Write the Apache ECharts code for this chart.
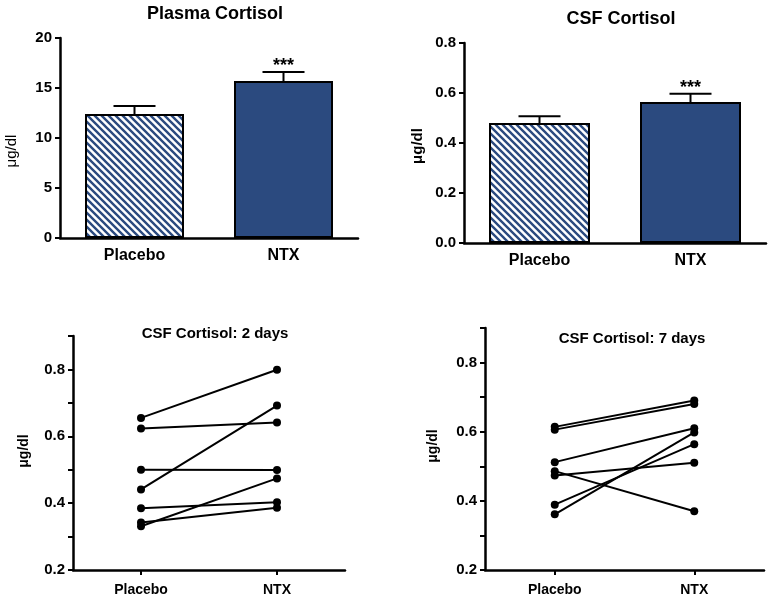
<!DOCTYPE html>
<html>
<head>
<meta charset="utf-8">
<script src="https://cdn.jsdelivr.net/npm/echarts@6/dist/echarts.min.js"></script>
<style>
html,body{margin:0;padding:0;background:#fff;}
#c{width:768px;height:594px;}
</style>
</head>
<body>
<div id="c"></div>
<script>
// ---- data ----
const groups = ['Placebo', 'NTX'];
const plasmaMean = [12.4, 15.7];
const plasmaSem = [0.8, 0.9];
const plasmaSig = ['', '***'];
const csfMean = [0.48, 0.564];
const csfSem = [0.027, 0.033];
const csfSig = ['', '***'];
const day2Placebo = [0.655, 0.623, 0.500, 0.441, 0.385, 0.342, 0.331];
const day2NTX     = [0.799, 0.641, 0.499, 0.692, 0.403, 0.386, 0.474];
const day7Placebo = [0.614, 0.606, 0.512, 0.473, 0.486, 0.389, 0.361];
const day7NTX     = [0.690, 0.680, 0.610, 0.510, 0.370, 0.564, 0.598];
const titles = ['Plasma Cortisol', 'CSF Cortisol', 'CSF Cortisol: 2 days', 'CSF Cortisol: 7 days'];
const yName = 'μg/dl';

const NAVY = '#2b4a7f';
const FONT = '"Liberation Sans", Arial, Helvetica, sans-serif';

function hatch() {
  const n = 7;
  const c = document.createElement('canvas');
  c.width = n; c.height = n;
  const g = c.getContext('2d');
  g.fillStyle = '#fff'; g.fillRect(0, 0, n, n);
  g.strokeStyle = NAVY; g.lineWidth = 2.4;
  g.beginPath();
  g.moveTo(-2, -2); g.lineTo(n + 2, n + 2);
  g.moveTo(-2, n - 2); g.lineTo(2, n + 2);
  g.moveTo(n - 2, -2); g.lineTo(n + 2, 2);
  g.stroke();
  return c;
}
const hatchPattern = { image: hatch(), repeat: 'repeat' };

const chart = echarts.init(document.getElementById('c'), null, { renderer: 'canvas' });

const grids = [
  { left: 60, top: 38, width: 298, height: 200, outerBoundsMode: 'none', containLabel: false },
  { left: 464, top: 43, width: 302, height: 200, outerBoundsMode: 'none', containLabel: false },
  { left: 73, top: 336, width: 272, height: 234, outerBoundsMode: 'none', containLabel: false },
  { left: 485, top: 328, width: 279, height: 242, outerBoundsMode: 'none', containLabel: false }
];

function xAx(i, ticks, fs) {
  return {
    type: 'category', gridIndex: i, data: groups, boundaryGap: true,
    axisLine: { lineStyle: { color: '#000', width: 2.5 } },
    axisTick: { show: ticks, alignWithLabel: true, length: 5, lineStyle: { width: 2, color: '#000' } },
    axisLabel: { color: '#000', fontWeight: 'bold', fontSize: fs, fontFamily: FONT, margin: ticks ? 13 : 10 },
    splitLine: { show: false }
  };
}
function yAx(i, min, max, interval, fmt) {
  return {
    type: 'value', gridIndex: i, min: min, max: max, interval: interval,
    axisLine: { show: true, lineStyle: { color: '#000', width: 2.5 } },
    axisTick: { show: true, length: 5, lineStyle: { width: 2, color: '#000' } },
    axisLabel: { color: '#000', fontWeight: 'bold', fontSize: 15, fontFamily: FONT, margin: 8, formatter: fmt },
    splitLine: { show: false }
  };
}

function errSeries(idx, means, sems, sig, starGap) {
  return {
    type: 'custom', xAxisIndex: idx, yAxisIndex: idx, z: 5,
    data: means.map((m, i) => [i, m, sems[i]]),
    renderItem: function (params, api) {
      const x = api.value(0), m = api.value(1), s = api.value(2);
      const b = api.coord([x, m]);
      const t = api.coord([x, m + s]);
      const ch = [
        { type: 'line', shape: { x1: b[0], y1: b[1], x2: t[0], y2: t[1] }, style: { stroke: '#000', lineWidth: 2 } },
        { type: 'line', shape: { x1: t[0] - 21, y1: t[1], x2: t[0] + 21, y2: t[1] }, style: { stroke: '#000', lineWidth: 2 } }
      ];
      const st = sig[params.dataIndex];
      if (st) {
        ch.push({ type: 'text', x: t[0], y: t[1] - starGap, style: { text: st, fill: '#000', font: 'bold 18px ' + FONT, textAlign: 'center', textVerticalAlign: 'middle' } });
      }
      return { type: 'group', children: ch };
    }
  };
}

function barSeries(idx, means, bw) {
  return {
    type: 'bar', xAxisIndex: idx, yAxisIndex: idx, barWidth: bw, z: 3,
    data: means.map((m, i) => ({
      value: m,
      itemStyle: { color: i === 0 ? hatchPattern : NAVY, borderColor: '#000', borderWidth: 2 }
    }))
  };
}

function pairSeries(idx, a, b) {
  return a.map((v, i) => ({
    type: 'line', xAxisIndex: idx, yAxisIndex: idx,
    data: [v, b[i]],
    symbol: 'circle', symbolSize: 8,
    lineStyle: { color: '#000', width: 2 },
    itemStyle: { color: '#000' },
    silent: true, animation: false
  }));
}

const f1 = v => v.toFixed(1);
const fAlt = v => (Math.round(v * 10) % 2 === 0 ? v.toFixed(1) : '');

const option = {
  animation: false,
  backgroundColor: '#fff',
  title: [
    { text: titles[0], left: 210, top: 0, textAlign: 'center', textStyle: { fontSize: 18, fontWeight: 'bold', color: '#000', fontFamily: FONT } },
    { text: titles[1], left: 616, top: 5, textAlign: 'center', textStyle: { fontSize: 18, fontWeight: 'bold', color: '#000', fontFamily: FONT } },
    { text: titles[2], left: 210, top: 321, textAlign: 'center', textStyle: { fontSize: 15, fontWeight: 'bold', color: '#000', fontFamily: FONT } },
    { text: titles[3], left: 627, top: 326, textAlign: 'center', textStyle: { fontSize: 15, fontWeight: 'bold', color: '#000', fontFamily: FONT } }
  ],
  grid: grids,
  xAxis: [xAx(0, false, 16), xAx(1, false, 16), xAx(2, true, 14), xAx(3, true, 14)],
  yAxis: [
    yAx(0, 0, 20, 5, v => String(v)),
    yAx(1, 0, 0.8, 0.2, f1),
    yAx(2, 0.2, 0.9, 0.1, fAlt),
    yAx(3, 0.2, 0.9, 0.1, fAlt)
  ],
  graphic: [
    { type: 'text', x: 12, y: 151, rotation: Math.PI / 2, style: { text: yName, font: '15px ' + FONT, fill: '#000', textAlign: 'center', textVerticalAlign: 'middle' } },
    { type: 'text', x: 418, y: 146, rotation: Math.PI / 2, style: { text: yName, font: 'bold 15px ' + FONT, fill: '#000', textAlign: 'center', textVerticalAlign: 'middle' } },
    { type: 'text', x: 24, y: 451, rotation: Math.PI / 2, style: { text: yName, font: 'bold 14px ' + FONT, fill: '#000', textAlign: 'center', textVerticalAlign: 'middle' } },
    { type: 'text', x: 433, y: 446, rotation: Math.PI / 2, style: { text: yName, font: 'bold 14px ' + FONT, fill: '#000', textAlign: 'center', textVerticalAlign: 'middle' } }
  ],
  series: [
    barSeries(0, plasmaMean, 99),
    errSeries(0, plasmaMean, plasmaSem, plasmaSig, 6),
    barSeries(1, csfMean, 101),
    errSeries(1, csfMean, csfSem, csfSig, 6)
  ].concat(pairSeries(2, day2Placebo, day2NTX), pairSeries(3, day7Placebo, day7NTX))
};
chart.setOption(option);
</script>
</body>
</html>
